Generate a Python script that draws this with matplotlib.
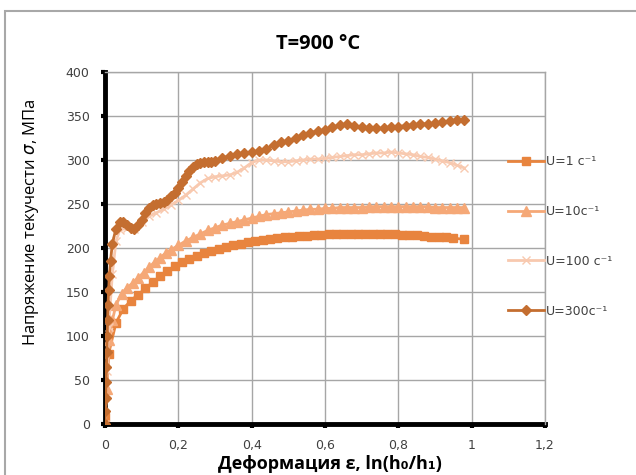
import matplotlib
matplotlib.use("Agg")
import matplotlib.pyplot as plt
from matplotlib.patches import Rectangle

# ---- data ----
eps_1 = [0.0, 0.01, 0.03, 0.05, 0.07, 0.09, 0.11, 0.13, 0.15, 0.17, 0.19, 0.21, 0.23, 0.25,
         0.27, 0.29, 0.31, 0.33, 0.35, 0.37, 0.39, 0.41, 0.43, 0.45, 0.47, 0.49, 0.51,
         0.53, 0.55, 0.57, 0.59, 0.61, 0.63, 0.65, 0.67, 0.69, 0.71, 0.73, 0.75, 0.77,
         0.79, 0.81, 0.83, 0.85, 0.87, 0.89, 0.91, 0.93, 0.95, 0.98]
sig_1 = [8, 80, 115, 131, 140, 147, 154, 161, 168, 174, 179, 184, 188, 191,
         194, 197, 199, 201, 203, 205, 207, 208, 209, 210, 211, 212, 213,
         214, 214, 215, 215, 216, 216, 216, 216, 216, 216, 216, 216, 216,
         216, 215, 215, 215, 214, 213, 213, 212, 211, 210]

eps_10 = [0.0, 0.005, 0.012, 0.02, 0.03, 0.045, 0.06, 0.075, 0.09, 0.105, 0.12, 0.135, 0.15,
          0.165, 0.18, 0.2, 0.22, 0.24, 0.26, 0.28, 0.3, 0.32, 0.34, 0.36, 0.38, 0.4,
          0.42, 0.44, 0.46, 0.48, 0.5, 0.52, 0.54, 0.56, 0.58, 0.6, 0.62, 0.64, 0.66,
          0.68, 0.7, 0.72, 0.74, 0.76, 0.78, 0.8, 0.82, 0.84, 0.86, 0.88, 0.9, 0.92,
          0.94, 0.96, 0.98]
sig_10 = [0, 40, 95, 118, 135, 148, 155, 160, 166, 172, 178, 184, 189,
          194, 198, 203, 208, 212, 216, 220, 223, 226, 228, 230, 232, 234,
          236, 238, 239, 240, 241, 242, 243, 244, 244, 245, 245, 246, 246,
          246, 246, 247, 247, 247, 247, 247, 247, 247, 247, 247, 246, 246,
          246, 246, 246]

eps_100 = [0.0, 0.005, 0.01, 0.02, 0.03, 0.04, 0.06, 0.08, 0.1, 0.12, 0.14, 0.16, 0.18,
           0.2, 0.22, 0.24, 0.26, 0.28, 0.3, 0.32, 0.34, 0.36, 0.38, 0.4, 0.42, 0.44,
           0.46, 0.48, 0.5, 0.52, 0.54, 0.56, 0.58, 0.6, 0.62, 0.64, 0.66, 0.68, 0.7,
           0.72, 0.74, 0.76, 0.78, 0.8, 0.82, 0.84, 0.86, 0.88, 0.9, 0.92, 0.94, 0.96, 0.98]
sig_100 = [0, 60, 110, 170, 208, 220, 223, 222, 229, 236, 240, 244, 249,
           254, 260, 267, 274, 279, 281, 282, 283, 286, 291, 297, 300, 300,
           299, 298, 298, 299, 300, 301, 301, 302, 303, 304, 305, 306, 306,
           307, 308, 308, 309, 308, 307, 306, 304, 303, 301, 299, 297, 294, 291]

eps_300 = [0.0, 0.001, 0.002, 0.003, 0.004, 0.005, 0.006, 0.007, 0.008, 0.01, 0.012, 0.015,
           0.02, 0.03, 0.04, 0.05, 0.06, 0.07, 0.08, 0.09, 0.1, 0.11, 0.12, 0.13, 0.14,
           0.15, 0.16, 0.17, 0.18, 0.19, 0.2, 0.21, 0.22, 0.23, 0.24, 0.25, 0.26, 0.27,
           0.28, 0.29, 0.3, 0.32, 0.34, 0.36, 0.38, 0.4, 0.42, 0.44, 0.46, 0.48, 0.5,
           0.52, 0.54, 0.56, 0.58, 0.6, 0.62, 0.64, 0.66, 0.68, 0.7, 0.72, 0.74, 0.76,
           0.78, 0.8, 0.82, 0.84, 0.86, 0.88, 0.9, 0.92, 0.94, 0.96, 0.98]
sig_300 = [0, 15, 30, 48, 65, 82, 100, 118, 135, 152, 168, 185,
           205, 222, 229, 230, 226, 223, 222, 226, 232, 240, 246, 249, 250,
           251, 252, 255, 259, 263, 268, 275, 282, 288, 292, 295, 297, 298,
           298, 298, 299, 302, 305, 307, 308, 309, 310, 313, 317, 320, 322,
           325, 328, 331, 333, 334, 337, 340, 341, 339, 337, 336, 336, 336,
           337, 338, 339, 340, 341, 341, 342, 343, 344, 345, 345]

labels = ["U=1 c\u207b\u00b9", "U=10c\u207b\u00b9", "U=100 c\u207b\u00b9", "U=300c\u207b\u00b9"]
x_ticks = [0, 0.2, 0.4, 0.6, 0.8, 1.0, 1.2]
x_tick_labels = ["0", "0,2", "0,4", "0,6", "0,8", "1", "1,2"]
y_ticks = [0, 50, 100, 150, 200, 250, 300, 350, 400]

# ---- figure ----
W, H = 636, 475
fig = plt.figure(figsize=(W / 100, H / 100), dpi=100)
fig.patch.set_facecolor("white")
ax = fig.add_axes([105 / W, 1 - 424 / H, (545 - 105) / W, (424 - 72) / H])

c1, c10, c100, c300 = "#E8843E", "#F5A877", "#F8C9AF", "#C46E30"

ax.plot(eps_1, sig_1, color=c1, lw=2, marker="s", ms=6.2, label=labels[0], zorder=3)
ax.plot(eps_10, sig_10, color=c10, lw=2, marker="^", ms=6.5, label=labels[1], zorder=3)
ax.plot(eps_100, sig_100, color=c100, lw=2, marker="x", ms=6, mew=1, label=labels[2], zorder=3)
ax.plot(eps_300, sig_300, color=c300, lw=2, marker="D", ms=5.5, label=labels[3], zorder=4)

ax.set_xlim(0, 1.2)
ax.set_ylim(0, 400)
ax.set_xticks(x_ticks)
ax.set_xticklabels(x_tick_labels)
ax.set_yticks(y_ticks)
ax.grid(True, color="#a6a6a6", lw=1)
ax.set_axisbelow(True)
for s in ["top", "right"]:
    ax.spines[s].set_color("#a6a6a6")
    ax.spines[s].set_linewidth(1)
for s in ["left", "bottom"]:
    ax.spines[s].set_color("black")
    ax.spines[s].set_linewidth(3.5)
    ax.spines[s].set_zorder(2)
ax.tick_params(axis="both", direction="out", length=3, width=3, color="black",
               labelsize=9, labelcolor="#404040", pad=8)
for t in ax.get_xticklabels() + ax.get_yticklabels():
    t.set_family("DejaVu Sans")

fig.text(318 / W, 1 - 44 / H, "T=900 °C", ha="center", va="center",
         fontsize=14.5, fontweight="bold", family="Open Sans")
fig.text(330 / W, 1 - 464 / H, "Деформация ε, ln(h\u2080/h\u2081)", ha="center", va="center",
         fontsize=13, fontweight="bold", family=["Open Sans", "DejaVu Sans"])
fig.text(31 / W, 1 - 222 / H, r"Напряжение текучести $\sigma$, МПа", ha="center", va="center",
         rotation=90, fontsize=12, family="Open Sans")

leg = fig.legend(loc="upper left", bbox_to_anchor=(508 / W, 1 - 155 / H), frameon=False,
                 borderpad=0, borderaxespad=0, handlelength=2.9, handletextpad=0.15,
                 labelspacing=2.95, fontsize=9)
for t in leg.get_texts():
    t.set_color("#404040")

fig.add_artist(Rectangle((5 / W, -0.05), 1.1, 1 - 11 / H + 0.05, transform=fig.transFigure,
                         fill=False, edgecolor="#a8a8a8", lw=1.5))

fig.savefig("out.png", dpi=100)
